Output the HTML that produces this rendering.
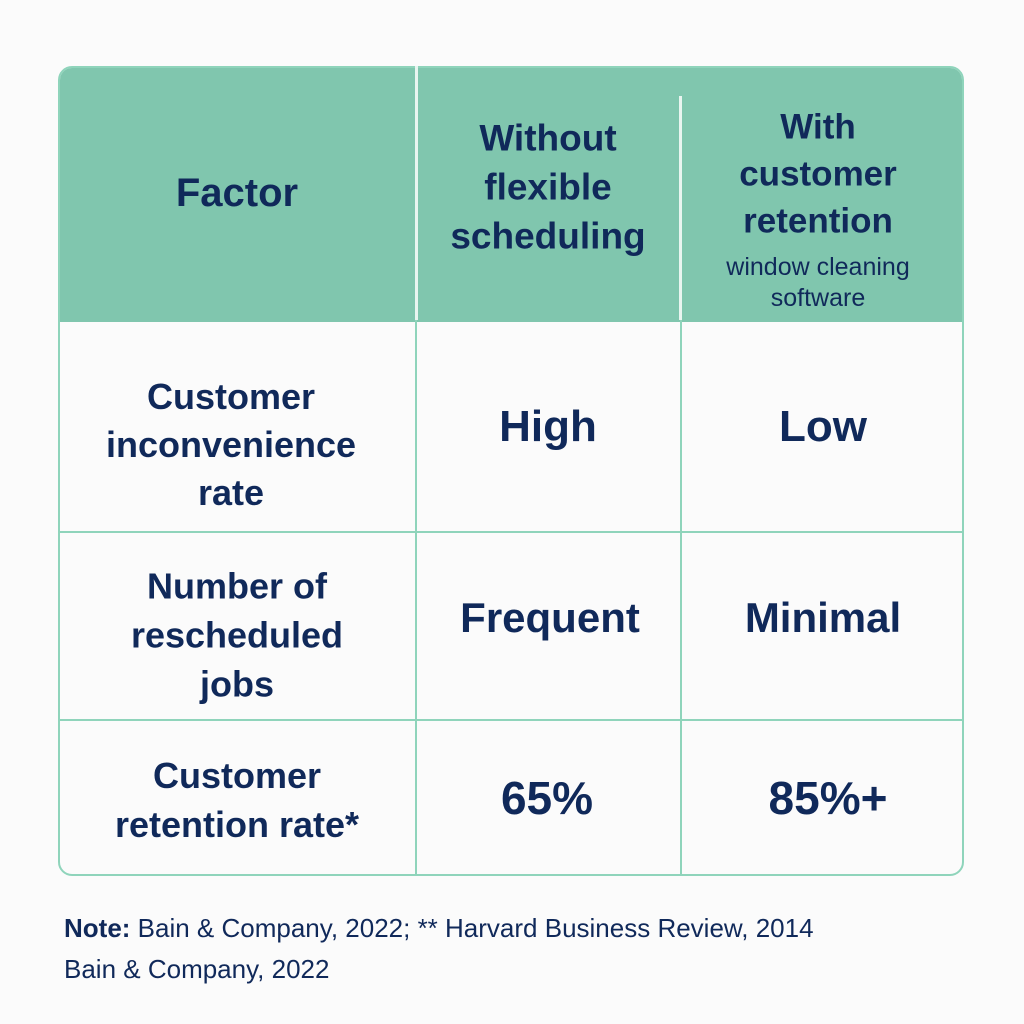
<!DOCTYPE html>
<html><head><meta charset="utf-8">
<style>
html,body{margin:0;padding:0;width:1024px;height:1024px;background:#fbfbfb;overflow:hidden}
body{font-family:"Liberation Sans",sans-serif;color:#10295a;position:relative}
.t{position:absolute;text-align:center;font-weight:bold;white-space:nowrap;transform:translate(-50%,-50%);line-height:1}
.ln{position:absolute;background:#8fd4bb}
</style></head>
<body>
<div style="position:absolute;left:58px;top:66px;width:906px;height:810px;border:2px solid #8fd4bb;border-radius:14px;overflow:hidden;background:#fbfbfb;box-sizing:border-box">
  <div style="position:absolute;left:0;top:0;width:100%;height:254px;background:#80c6ae"></div>
</div>
<div class="ln" style="left:415px;top:66px;width:3px;height:254px;background:#e9f5f0"></div>
<div class="ln" style="left:679px;top:96px;width:3px;height:224px;background:#e9f5f0"></div>
<div class="ln" style="left:415px;top:320px;width:2px;height:556px"></div>
<div class="ln" style="left:680px;top:320px;width:2px;height:556px"></div>
<div class="ln" style="left:58px;top:531px;width:906px;height:2px"></div>
<div class="ln" style="left:58px;top:719px;width:906px;height:2px"></div>

<div class="t" style="left:237px;top:193px;font-size:40px">Factor</div>
<div class="t" style="left:548px;top:187px;font-size:37px;line-height:49px">Without<br>flexible<br>scheduling</div>
<div class="t" style="left:818px;top:174px;font-size:35px;line-height:47px">With<br>customer<br>retention</div>
<div class="t" style="left:818px;top:283px;font-size:25px;line-height:31px;font-weight:normal">window cleaning<br>software</div>

<div class="t" style="left:231px;top:445px;font-size:36px;line-height:48px">Customer<br>inconvenience<br>rate</div>
<div class="t" style="left:548px;top:427px;font-size:44px">High</div>
<div class="t" style="left:823px;top:427px;font-size:44px">Low</div>

<div class="t" style="left:237px;top:635px;font-size:36px;line-height:49px">Number of<br>rescheduled<br>jobs</div>
<div class="t" style="left:550px;top:618px;font-size:42px">Frequent</div>
<div class="t" style="left:823px;top:618px;font-size:42px">Minimal</div>

<div class="t" style="left:237px;top:800px;font-size:36px;line-height:49px">Customer<br>retention rate*</div>
<div class="t" style="left:547px;top:798px;font-size:46px">65%</div>
<div class="t" style="left:828px;top:798px;font-size:46px">85%+</div>

<div style="position:absolute;left:64px;top:908px;font-size:26px;line-height:41px;white-space:nowrap"><b>Note:</b> Bain &amp; Company, 2022; ** Harvard Business Review, 2014<br>Bain &amp; Company, 2022</div>
</body></html>
